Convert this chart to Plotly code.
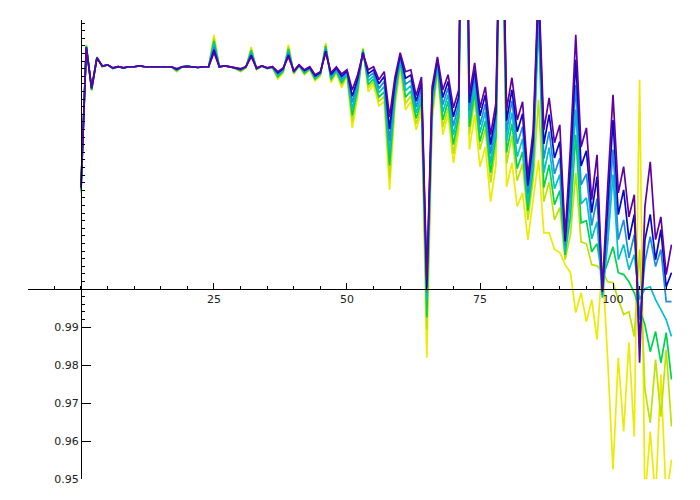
import plotly.graph_objects as go

# sample index
x = list(range(112))

purple = [1.0272, 1.0635, 1.0530, 1.0608, 1.0587, 1.0590, 1.0582, 1.0585, 1.0582, 1.0585,
          1.0585, 1.0587, 1.0585, 1.0585, 1.0585, 1.0585, 1.0585, 1.0585, 1.0580, 1.0585,
          1.0586, 1.0585, 1.0583, 1.0585, 1.0585, 1.0622, 1.0585, 1.0587, 1.0585, 1.0582,
          1.0580, 1.0585, 1.0611, 1.0582, 1.0587, 1.0582, 1.0585, 1.0572, 1.0582, 1.0611,
          1.0574, 1.0590, 1.0577, 1.0585, 1.0564, 1.0572, 1.0622, 1.0569, 1.0585, 1.0566,
          1.0577, 1.0524, 1.0564, 1.0619, 1.0577, 1.0585, 1.0551, 1.0572, 1.0453, 1.0556,
          1.0622, 1.0572, 1.0577, 1.0509, 1.0558, 1.0025, 1.0532, 1.0611, 1.0524, 1.0564,
          1.0477, 1.0524, 1.1680, 1.0511, 1.0595, 1.0477, 1.0532, 1.0406, 1.0490, 1.1208,
          1.0472, 1.0556, 1.0445, 1.0493, 1.0296, 1.0419, 1.0814, 1.0419, 1.0503, 1.0385,
          1.0432, 1.0138, 1.0374, 1.0669, 1.0374, 1.0424, 1.0235, 1.0353, 0.9998, 1.0269,
          1.0511, 1.0253, 1.0322, 1.0190, 1.0248, 0.9806, 1.0217, 1.0335, 1.0130, 1.0190,
          1.0038, 1.0117]

blue = [1.0267, 1.0636, 1.0528, 1.0608, 1.0587, 1.0590, 1.0582, 1.0585, 1.0582, 1.0585,
        1.0585, 1.0587, 1.0585, 1.0585, 1.0585, 1.0585, 1.0585, 1.0585, 1.0578, 1.0585,
        1.0586, 1.0585, 1.0583, 1.0585, 1.0585, 1.0630, 1.0585, 1.0587, 1.0585, 1.0582,
        1.0578, 1.0585, 1.0615, 1.0581, 1.0587, 1.0582, 1.0585, 1.0569, 1.0580, 1.0616,
        1.0573, 1.0589, 1.0575, 1.0583, 1.0561, 1.0570, 1.0626, 1.0565, 1.0582, 1.0560,
        1.0574, 1.0507, 1.0554, 1.0622, 1.0567, 1.0577, 1.0540, 1.0559, 1.0421, 1.0543,
        1.0616, 1.0555, 1.0563, 1.0494, 1.0543, 1.0004, 1.0517, 1.0605, 1.0504, 1.0546,
        1.0453, 1.0506, 1.1660, 1.0490, 1.0577, 1.0456, 1.0511, 1.0380, 1.0466, 1.1200,
        1.0443, 1.0524, 1.0414, 1.0461, 1.0272, 1.0393, 1.0787, 1.0382, 1.0459, 1.0345,
        1.0388, 1.0125, 1.0327, 1.0603, 1.0324, 1.0364, 1.0201, 1.0296, 0.9993, 1.0219,
        1.0445, 1.0196, 1.0261, 1.0130, 1.0196, 0.9854, 1.0130, 1.0196, 1.0077, 1.0156,
        1.0006, 1.0043]

light_blue = [1.0264, 1.0637, 1.0527, 1.0609, 1.0586, 1.0590, 1.0581, 1.0585, 1.0582, 1.0585,
              1.0585, 1.0587, 1.0585, 1.0585, 1.0585, 1.0585, 1.0585, 1.0585, 1.0577, 1.0585,
              1.0586, 1.0585, 1.0583, 1.0585, 1.0585, 1.0638, 1.0585, 1.0587, 1.0585, 1.0581,
              1.0577, 1.0584, 1.0620, 1.0580, 1.0587, 1.0581, 1.0584, 1.0566, 1.0578, 1.0622,
              1.0571, 1.0589, 1.0573, 1.0582, 1.0559, 1.0568, 1.0631, 1.0560, 1.0580, 1.0554,
              1.0572, 1.0491, 1.0545, 1.0624, 1.0558, 1.0569, 1.0528, 1.0546, 1.0389, 1.0530,
              1.0610, 1.0539, 1.0549, 1.0479, 1.0528, 0.9990, 1.0501, 1.0599, 1.0485, 1.0529,
              1.0429, 1.0489, 1.1640, 1.0469, 1.0557, 1.0432, 1.0487, 1.0356, 1.0445, 1.1190,
              1.0414, 1.0495, 1.0382, 1.0427, 1.0251, 1.0367, 1.0761, 1.0343, 1.0414, 1.0303,
              1.0345, 1.0114, 1.0282, 1.0537, 1.0274, 1.0303, 1.0167, 1.0238, 0.9985, 1.0169,
              1.0367, 1.0130, 1.0182, 1.0082, 1.0143, 0.9919, 1.0072, 1.0138, 1.0059, 1.0104,
              0.9967, 0.9967]

cyan = [1.0261, 1.0639, 1.0526, 1.0609, 1.0586, 1.0590, 1.0581, 1.0585, 1.0582, 1.0585,
        1.0585, 1.0587, 1.0585, 1.0585, 1.0585, 1.0585, 1.0585, 1.0585, 1.0576, 1.0585,
        1.0586, 1.0585, 1.0583, 1.0585, 1.0585, 1.0646, 1.0585, 1.0587, 1.0585, 1.0581,
        1.0576, 1.0584, 1.0624, 1.0580, 1.0587, 1.0581, 1.0584, 1.0563, 1.0576, 1.0627,
        1.0570, 1.0588, 1.0571, 1.0581, 1.0556, 1.0567, 1.0635, 1.0556, 1.0577, 1.0548,
        1.0569, 1.0474, 1.0535, 1.0627, 1.0548, 1.0561, 1.0517, 1.0533, 1.0357, 1.0517,
        1.0604, 1.0522, 1.0535, 1.0464, 1.0512, 0.9972, 1.0486, 1.0593, 1.0465, 1.0511,
        1.0405, 1.0471, 1.1620, 1.0448, 1.0537, 1.0411, 1.0466, 1.0330, 1.0422, 1.1180,
        1.0388, 1.0464, 1.0348, 1.0395, 1.0227, 1.0343, 1.0735, 1.0306, 1.0372, 1.0264,
        1.0301, 1.0101, 1.0235, 1.0472, 1.0224, 1.0240, 1.0132, 1.0177, 0.9977, 1.0119,
        1.0301, 1.0077, 1.0117, 1.0051, 1.0090, 0.9972, 1.0001, 1.0006, 0.9972, 0.9946,
        0.9919, 0.9875]

green = [1.0259, 1.0640, 1.0524, 1.0610, 1.0586, 1.0590, 1.0581, 1.0585, 1.0582, 1.0585,
         1.0585, 1.0587, 1.0585, 1.0585, 1.0585, 1.0585, 1.0585, 1.0585, 1.0575, 1.0585,
         1.0586, 1.0585, 1.0583, 1.0585, 1.0585, 1.0653, 1.0585, 1.0587, 1.0585, 1.0581,
         1.0575, 1.0583, 1.0628, 1.0579, 1.0587, 1.0581, 1.0583, 1.0559, 1.0573, 1.0632,
         1.0569, 1.0588, 1.0568, 1.0580, 1.0553, 1.0565, 1.0639, 1.0552, 1.0574, 1.0542,
         1.0566, 1.0457, 1.0525, 1.0630, 1.0538, 1.0553, 1.0505, 1.0519, 1.0325, 1.0503,
         1.0597, 1.0505, 1.0521, 1.0449, 1.0497, 0.9925, 1.0471, 1.0586, 1.0445, 1.0494,
         1.0380, 1.0454, 1.1600, 1.0427, 1.0519, 1.0388, 1.0443, 1.0306, 1.0401, 1.1170,
         1.0359, 1.0435, 1.0317, 1.0361, 1.0206, 1.0317, 1.0703, 1.0267, 1.0327, 1.0222,
         1.0259, 1.0090, 1.0190, 1.0406, 1.0174, 1.0180, 1.0098, 1.0119, 1.0030, 1.0069,
         1.0111, 1.0043, 1.0038, 1.0019, 0.9990, 0.9946, 0.9906, 0.9835, 0.9888, 0.9806,
         0.9885, 0.9762]

yellow_green = [1.0256, 1.0641, 1.0523, 1.0610, 1.0585, 1.0590, 1.0580, 1.0585, 1.0582, 1.0585,
                1.0585, 1.0587, 1.0585, 1.0585, 1.0585, 1.0585, 1.0585, 1.0585, 1.0573, 1.0585,
                1.0586, 1.0585, 1.0583, 1.0585, 1.0585, 1.0661, 1.0585, 1.0587, 1.0585, 1.0580,
                1.0573, 1.0583, 1.0633, 1.0578, 1.0587, 1.0580, 1.0583, 1.0556, 1.0571, 1.0638,
                1.0567, 1.0587, 1.0566, 1.0578, 1.0551, 1.0563, 1.0644, 1.0547, 1.0572, 1.0536,
                1.0564, 1.0441, 1.0516, 1.0632, 1.0529, 1.0545, 1.0494, 1.0506, 1.0293, 1.0490,
                1.0591, 1.0489, 1.0507, 1.0434, 1.0481, 0.9893, 1.0455, 1.0580, 1.0426, 1.0476,
                1.0356, 1.0436, 1.1580, 1.0406, 1.0501, 1.0367, 1.0422, 1.0280, 1.0377, 1.1160,
                1.0330, 1.0403, 1.0285, 1.0330, 1.0182, 1.0290, 1.0498, 1.0230, 1.0282, 1.0182,
                1.0214, 1.0077, 1.0143, 1.0306, 1.0124, 1.0119, 1.0064, 1.0061, 1.0046, 1.0019,
                1.0017, 0.9972, 0.9933, 0.9940, 0.9875, 1.0104, 0.9735, 0.9648, 0.9814, 0.9664,
                0.9840, 0.9638]

yellow = [1.0253, 1.0643, 1.0522, 1.0611, 1.0585, 1.0590, 1.0580, 1.0585, 1.0582, 1.0585,
          1.0585, 1.0587, 1.0585, 1.0585, 1.0585, 1.0585, 1.0585, 1.0585, 1.0572, 1.0585,
          1.0586, 1.0585, 1.0583, 1.0585, 1.0585, 1.0669, 1.0585, 1.0587, 1.0585, 1.0580,
          1.0572, 1.0582, 1.0637, 1.0577, 1.0587, 1.0580, 1.0582, 1.0553, 1.0569, 1.0643,
          1.0566, 1.0587, 1.0564, 1.0577, 1.0548, 1.0561, 1.0648, 1.0543, 1.0569, 1.0530,
          1.0561, 1.0424, 1.0506, 1.0635, 1.0519, 1.0537, 1.0482, 1.0493, 1.0261, 1.0477,
          1.0585, 1.0472, 1.0493, 1.0419, 1.0466, 0.9819, 1.0440, 1.0574, 1.0406, 1.0459,
          1.0332, 1.0419, 1.1550, 1.0367, 1.0459, 1.0322, 1.0374, 1.0230, 1.0327, 1.1150,
          1.0269, 1.0332, 1.0217, 1.0253, 1.0130, 1.0235, 1.0340, 1.0148, 1.0148, 1.0104,
          1.0096, 1.0064, 1.0043, 0.9938, 0.9990, 0.9914, 0.9972, 0.9867, 1.0072, 0.9814,
          0.9525, 0.9819, 0.9625, 0.9859, 0.9612, 1.0551, 0.9446, 0.9625, 0.9446, 0.9775,
          0.9446, 0.9551]

# tick labels
x_ticks = [25, 50, 75, 100]
x_labels = ["25", "50", "75", "100"]
y_ticks = [0.95, 0.96, 0.97, 0.98, 0.99]
y_labels = ["0.95", "0.96", "0.97", "0.98", "0.99"]
y_minor = [round(0.992 + 0.002 * i, 3) for i in range(40)]

# drawn bottom to top: yellow first, purple last
series = [
    ("yellow", yellow, "#ecec00"),
    ("yellow_green", yellow_green, "#bde400"),
    ("green", green, "#00d44c"),
    ("cyan", cyan, "#00c2c8"),
    ("light_blue", light_blue, "#1a8ee0"),
    ("blue", blue, "#0808c4"),
    ("purple", purple, "#5e00a6"),
]

fig = go.Figure()
for name, ys, col in series:
    fig.add_trace(go.Scatter(x=x, y=ys, mode="lines", name=name,
                             line=dict(color=col, width=1.7)))

tick_font = dict(family="DejaVu Sans", size=11, color="#222222")

# the page body adds an 8px offset, so the margins compensate for it
fig.update_layout(
    width=700, height=500,
    margin=dict(l=20, r=36, t=12, b=29),
    plot_bgcolor="white", paper_bgcolor="white",
    showlegend=False,
    xaxis=dict(
        range=[-9.96, 111.09], anchor="free", position=0.414,
        automargin=False,
        showline=True, linecolor="black", linewidth=1,
        showgrid=False, zeroline=False,
        tickmode="array", tickvals=x_ticks, ticktext=x_labels,
        ticks="inside", ticklen=6, tickcolor="black", tickfont=tick_font,
        minor=dict(tickmode="linear", tick0=0, dtick=5, ticks="inside",
                   ticklen=3, tickcolor="black", showgrid=False),
    ),
    yaxis=dict(
        range=[0.95, 1.0708], anchor="free", position=0.0823,
        automargin=False,
        showline=True, linecolor="black", linewidth=1,
        showgrid=False, zeroline=False,
        tickmode="array", tickvals=y_ticks, ticktext=y_labels,
        ticks="inside", ticklen=9, tickcolor="black", tickfont=tick_font,
        minor=dict(tickmode="array", tickvals=y_minor, ticks="inside",
                   ticklen=3, tickcolor="black", showgrid=False),
    ),
)

fig.write_html("out.html")
